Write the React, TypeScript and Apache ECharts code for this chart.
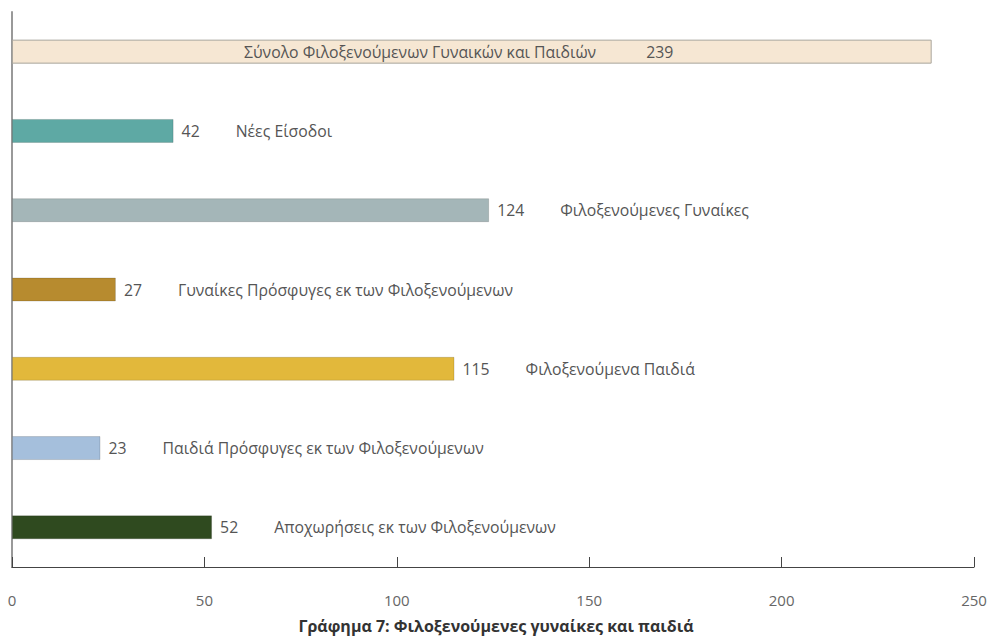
import React, { useEffect, useRef } from "react";
import * as echarts from "echarts";

const categories = [
  "Σύνολο Φιλοξενούμενων Γυναικών και Παιδιών",
  "Νέες Είσοδοι",
  "Φιλοξενούμενες Γυναίκες",
  "Γυναίκες Πρόσφυγες εκ των Φιλοξενούμενων",
  "Φιλοξενούμενα Παιδιά",
  "Παιδιά Πρόσφυγες εκ των Φιλοξενούμενων",
  "Αποχωρήσεις εκ των Φιλοξενούμενων",
];
const values = [239, 42, 124, 27, 115, 23, 52];
const barColors = ["#f6e7d3", "#5ea9a4", "#a4b6b8", "#b78b2f", "#e2b83b", "#a5bfdc", "#2f4a1f"];
const xTicks = [0, 50, 100, 150, 200, 250];
const titleText = "Γράφημα 7: Φιλοξενούμενες γυναίκες και παιδιά";

const FONT = "Open Sans";
const LABEL_SIZE = 15.8;

export default function App() {
  const ref = useRef<HTMLDivElement>(null);
  useEffect(() => {
    document.body.style.margin = "0";
    const chart = echarts.init(ref.current!, null, { renderer: "svg" });
    const data = values.map((v, i) => {
      const item: any = {
        value: v,
        itemStyle: {
          color: barColors[i],
          borderColor: i === 0 ? "#a9a59c" : "rgba(0,0,0,0.15)",
          borderWidth: 1,
        },
      };
      if (i === 0) {
        item.label = {
          position: [232, "50%"],
          verticalAlign: "middle",
          align: "left",
          formatter: (p: any) => `{t|${categories[p.dataIndex]}}{tv|${p.value}}`,
        };
      }
      return item;
    });
    chart.setOption({
      animation: false,
      grid: { left: 12, right: 18, top: 12, bottom: 74, containLabel: false },
      title: {
        text: titleText,
        left: "center",
        bottom: 2,
        textStyle: { fontFamily: "Open Sans", fontWeight: "bold", fontSize: 16, color: "#333" },
      },
      xAxis: {
        type: "value",
        min: 0,
        max: 250,
        interval: 50,
        axisLine: { show: true, lineStyle: { color: "#444", width: 1 } },
        axisTick: { show: true, inside: true, length: 10, lineStyle: { color: "#444" } },
        splitLine: { show: false },
        axisLabel: {
          margin: 25,
          fontFamily: FONT,
          fontSize: 15,
          color: "#666",
          formatter: (v: number) => (xTicks.includes(v) ? String(v) : ""),
        },
      },
      yAxis: {
        type: "category",
        inverse: true,
        data: categories,
        axisLine: { show: true, lineStyle: { color: "#999", width: 2 } },
        axisTick: { show: false },
        axisLabel: { show: false },
      },
      series: [
        {
          type: "bar",
          data,
          barWidth: 24,
          label: {
            show: true,
            position: "right",
            distance: 8,
            formatter: (p: any) => `{v|${p.value}}{n|${categories[p.dataIndex]}}`,
            rich: {
              v: { fontFamily: FONT, fontSize: LABEL_SIZE, color: "#555" },
              n: { fontFamily: FONT, fontSize: LABEL_SIZE, color: "#555", padding: [0, 0, 0, 36] },
              t: { fontFamily: FONT, fontSize: LABEL_SIZE, color: "#555", padding: [0, 50, 0, 0] },
              tv: { fontFamily: FONT, fontSize: LABEL_SIZE, color: "#555" },
            },
          },
        },
      ],
    });
    return () => chart.dispose();
  }, []);
  return <div ref={ref} style={{ width: 992, height: 641 }} />;
}
